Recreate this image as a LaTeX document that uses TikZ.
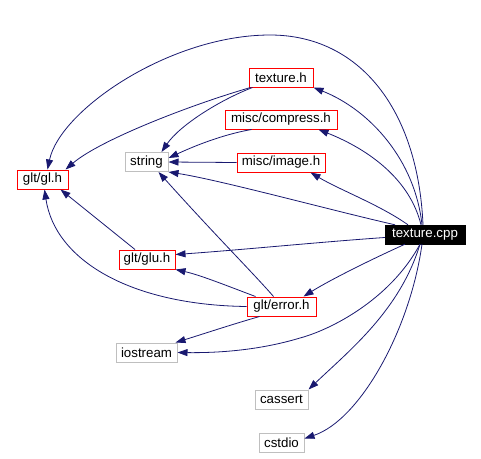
\documentclass[tikz,border=0pt]{standalone}
\usepackage{fontspec}
\setmainfont{Liberation Sans}
\usetikzlibrary{arrows.meta}
\definecolor{edgeblue}{RGB}{25,25,112}
\definecolor{boxgray}{RGB}{191,191,191}
\begin{document}
\begin{tikzpicture}[x=1pt,y=-1pt,
  every node/.style={font=\fontsize{13.3}{16}\selectfont, inner sep=0pt, minimum height=19pt, rectangle},
  redbox/.style={draw=red, line width=1pt},
  graybox/.style={draw=boxgray, line width=1pt},
  mainbox/.style={fill=black, text=white, draw=black},
  dep/.style={draw=edgeblue, line width=0.8pt, -{Triangle[length=10pt,width=7pt]}}]
\useasboundingbox (0,0) rectangle (481,458);
\node[redbox, minimum width=64pt] (texh) at (281,77.5) {texture.h};
\node[redbox, minimum width=112pt] (comp) at (281,119.5) {misc/compress.h};
\node[redbox, minimum width=88pt] (img) at (281,162.5) {misc/image.h};
\node[graybox, minimum width=43pt] (str) at (146.5,162) {string};
\node[redbox, minimum width=51pt] (gl) at (42.5,179.5) {glt/gl.h};
\node[mainbox, minimum width=80pt] (tcpp) at (425,234.5) {texture.cpp};
\node[redbox, minimum width=56pt] (glu) at (147,259.5) {glt/glu.h};
\node[redbox, minimum width=69pt] (err) at (281.5,306.5) {glt/error.h};
\node[graybox, minimum width=61pt] (ios) at (146.5,352.5) {iostream};
\node[graybox, minimum width=53pt] (cas) at (281.5,399.5) {cassert};
\node[graybox, minimum width=45pt] (cst) at (281.5,442.5) {cstdio};

% from texture.cpp
\draw[dep] ([xshift=-2pt]tcpp.north) .. controls (418,110) and (360,35) .. (270,35)
  .. controls (170,35) and (60,110) .. ([xshift=5pt]gl.north);
\draw[dep] ([xshift=-3pt]tcpp.north) .. controls (415,160) and (370,110) .. (texh.south east);
\draw[dep] ([xshift=-4pt]tcpp.north) .. controls (410,180) and (370,150) .. ([xshift=-19pt]comp.south east);
\draw[dep] ([xshift=-17pt]tcpp.north) .. controls (380,205) and (340,190) .. ([xshift=-15pt]img.south east);
\draw[dep] ([xshift=-30pt]tcpp.north) .. controls (330,210) and (220,180) .. (str.south east);
\draw[dep] ([yshift=-3pt]tcpp.west) .. controls (320,242) and (240,250) .. ([yshift=5pt]glu.east);
\draw[dep] ([xshift=-20pt]tcpp.south) .. controls (370,260) and (330,280) .. ([xshift=22pt]err.north);
\draw[dep] ([xshift=-5pt]tcpp.south) .. controls (390,300) and (330,330) .. (300,338)
  .. controls (260,350) and (220,353) .. (ios.east);
\draw[dep] ([xshift=-5pt]tcpp.south) .. controls (400,310) and (350,350) .. (cas.north east);
\draw[dep] ([xshift=-3pt]tcpp.south) .. controls (410,330) and (360,420) .. ([yshift=4pt]cst.east);

% from texture.h
\draw[dep] ([xshift=2pt]texh.south west) .. controls (190,105) and (100,140) .. ([xshift=-3pt]gl.north east);
\draw[dep] ([xshift=4pt]texh.south west) .. controls (220,100) and (180,125) .. ([xshift=15pt]str.north);

% others
\draw[dep] ([xshift=27pt]comp.south west) .. controls (220,135) and (190,148) .. ([yshift=4pt]str.east);
\draw[dep] (img.west) -- (str.east);
\draw[dep] ([xshift=-12pt]glu.north) -- ([xshift=-8pt]gl.south east);
\draw[dep] (err.west) .. controls (130,305) and (55,260) .. ([xshift=2pt]gl.south);
\draw[dep] ([xshift=-8pt]err.north) .. controls (255,275) and (215,235) .. ([xshift=12pt]str.south);
\draw[dep] ([xshift=-26pt]err.north) .. controls (225,285) and (200,275) .. (glu.south east);
\draw[dep] ([xshift=-22pt]err.south) .. controls (230,325) and (200,335) .. ([xshift=-2pt]ios.north east);
\end{tikzpicture}
\end{document}
